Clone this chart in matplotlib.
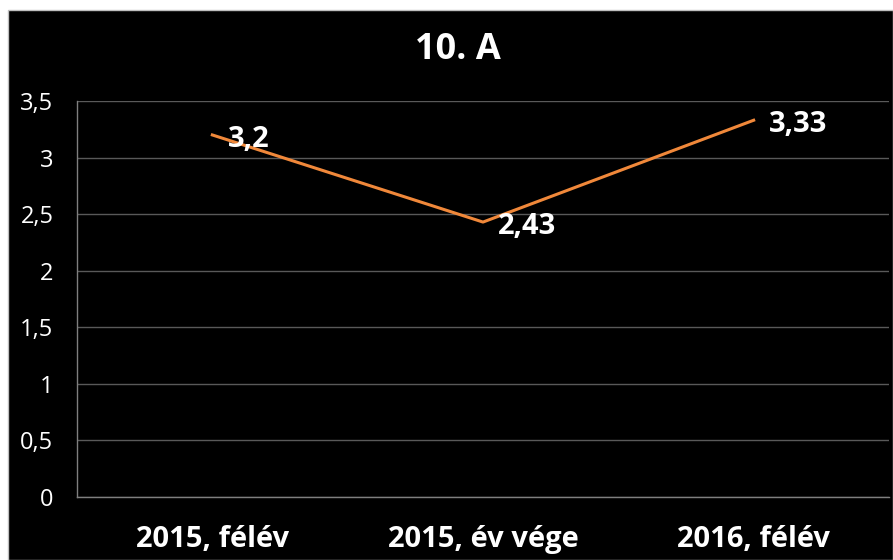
import matplotlib.pyplot as plt
from matplotlib.patches import Rectangle

categories = ["2015, félév", "2015, év vége", "2016, félév"]
values = [3.2, 2.43, 3.33]
value_labels = ["3,2", "2,43", "3,33"]
y_ticks = [0, 0.5, 1, 1.5, 2, 2.5, 3, 3.5]
y_tick_labels = ["0", "0,5", "1", "1,5", "2", "2,5", "3", "3,5"]
title = "10. A"

plt.rcParams["font.family"] = ["Open Sans", "DejaVu Sans"]

W, H = 893, 560
fig = plt.figure(figsize=(W / 100, H / 100), dpi=100, facecolor="white")

# black chart area with thin grey frame
fig.patches.append(Rectangle((8 / W, 0), 1 - 8 / W, 1 - 10 / H, transform=fig.transFigure,
                             facecolor="black", edgecolor="#bfbfbf", linewidth=1, zorder=-1))

ax = fig.add_axes([77 / W, 1 - 497 / H, (889 - 77) / W, (497 - 101) / H])
ax.set_zorder(2)
ax.set_facecolor("black")

x = list(range(len(categories)))
ax.plot(x, values, color="#F0883A", linewidth=2.2, zorder=3)

for xi, v, lab in zip(x, values, value_labels):
    ax.annotate(lab, (xi, v), xytext=(11, -3), textcoords="offset points",
                ha="left", va="center", color="white", fontsize=21, fontweight="bold", zorder=4)

ax.set_xlim(-0.5, len(categories) - 0.5)
ax.set_ylim(0, 3.5)
ax.set_yticks(y_ticks)
ax.set_yticklabels(y_tick_labels, color="white", fontsize=17)
ax.set_xticks(x)
ax.set_xticklabels(categories, color="white", fontsize=21, fontweight="bold")
ax.tick_params(axis="both", length=0)
ax.tick_params(axis="y", pad=17)
ax.tick_params(axis="x", pad=20)

ax.grid(axis="y", color="#595959", linewidth=1)
ax.set_axisbelow(True)
for side in ["top", "right"]:
    ax.spines[side].set_visible(False)
for side in ["left", "bottom"]:
    ax.spines[side].set_color("#7f7f7f")
    ax.spines[side].set_linewidth(1)

fig.text(458 / W, 1 - 50 / H, title, ha="center", va="center", color="white",
         fontsize=26, fontweight="bold", zorder=3)

fig.savefig("out.png", dpi=100, facecolor=fig.get_facecolor())
